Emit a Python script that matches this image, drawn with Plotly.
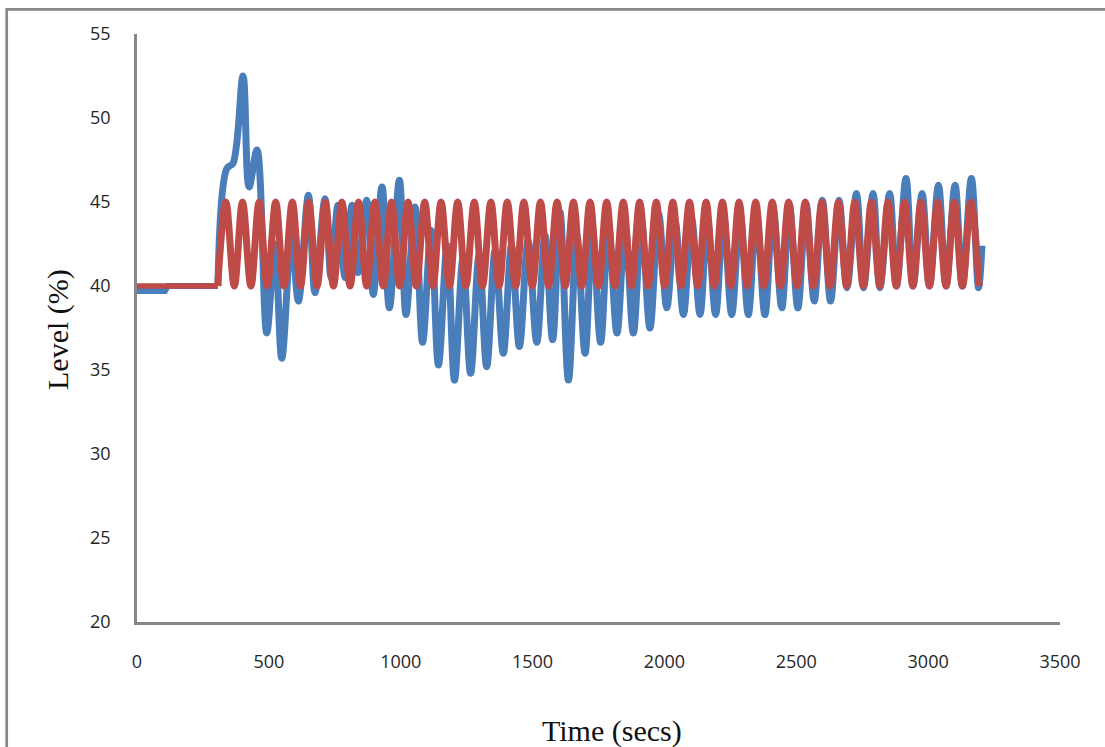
import plotly.graph_objects as go

# ---- data ----
x_ticks = [0, 500, 1000, 1500, 2000, 2500, 3000, 3500]
y_ticks = [20, 25, 30, 35, 40, 45, 50, 55]

# Level (blue series): initial flat part
blue_flat_time = [0, 10, 106, 117, 307]
blue_flat_level = [39.7, 39.7, 39.7, 40.0, 40.0]

# Level (blue series): turning points after the disturbance
blue_time = [307, 341, 364, 402, 425, 455, 492, 523, 549, 586, 612, 650, 675, 713, 736, 762,
             789, 815, 838, 871, 896, 929, 957, 995, 1020, 1054, 1083, 1115, 1143, 1176, 1204,
             1236, 1265, 1297, 1326, 1358, 1389, 1420, 1450, 1483, 1516, 1547, 1576, 1604, 1636,
             1668, 1699, 1727, 1758, 1788, 1820, 1851, 1882, 1913, 1945, 1978, 2009, 2040, 2072,
             2103, 2135, 2163, 2194, 2224, 2255, 2287, 2318, 2349, 2381, 2412, 2445, 2474, 2506,
             2537, 2568, 2599, 2630, 2662, 2692, 2728, 2755, 2791, 2817, 2854, 2880, 2916, 2943,
             2977, 3005, 3039, 3068, 3102, 3130, 3164, 3191, 3204]
blue_level = [40.0, 47.0, 47.3, 52.5, 45.9, 48.1, 37.2, 42.5, 35.7, 43.0, 39.1, 45.4, 39.6, 45.2, 40.5, 44.8,
              40.5, 44.8, 40.8, 45.1, 39.5, 45.9, 38.7, 46.3, 38.3, 44.7, 36.65, 43.3, 35.3, 42.4, 34.4,
              41.6, 34.8, 41.8, 35.2, 42.1, 36.0, 42.4, 36.4, 42.7, 36.65, 43.0, 36.8, 44.4, 34.4,
              43.0, 36.0, 43.3, 36.65, 43.6, 37.2, 43.6, 37.2, 43.8, 37.5, 44.3, 38.7, 43.9, 38.3,
              44.0, 38.3, 44.0, 38.3, 44.2, 38.3, 44.3, 38.3, 44.4, 38.3, 44.6, 38.7, 44.8, 38.7,
              44.9, 39.1, 45.1, 39.1, 45.1, 39.9, 45.5, 39.9, 45.5, 39.9, 45.5, 40.0, 46.4, 40.0,
              45.5, 40.0, 46.0, 40.0, 46.0, 40.0, 46.4, 39.9, 42.4]

# Set point (red series): initial flat part
red_flat_time = [0, 306]
red_flat_level = [40, 40]

# Set point (red series): turning points of the oscillating set point
red_time = [306, 337, 369, 400, 432, 463, 494, 526, 557, 589, 620, 651, 683, 714, 745, 777,
            808, 840, 871, 902, 934, 965, 996, 1028, 1059, 1091, 1122, 1153, 1185, 1216, 1247,
            1279, 1310, 1342, 1373, 1404, 1436, 1467, 1499, 1530, 1561, 1593, 1624, 1655, 1687,
            1718, 1750, 1781, 1812, 1844, 1875, 1906, 1938, 1969, 2001, 2032, 2063, 2095, 2126,
            2158, 2189, 2220, 2252, 2283, 2314, 2346, 2377, 2409, 2440, 2471, 2503, 2534, 2565,
            2597, 2628, 2660, 2691, 2722, 2754, 2785, 2817, 2848, 2879, 2911, 2942, 2973, 3005,
            3036, 3068, 3099, 3130, 3162, 3193]
red_level = [40, 45, 40, 45, 40, 45, 40, 45, 40, 45, 40, 45, 40, 45, 40, 45,
             40, 45, 40, 45, 40, 45, 40, 45, 40, 45, 40, 45, 40, 45, 40,
             45, 40, 45, 40, 45, 40, 45, 40, 45, 40, 45, 40, 45, 40,
             45, 40, 45, 40, 45, 40, 45, 40, 45, 40, 45, 40, 45, 40,
             45, 40, 45, 40, 45, 40, 45, 40, 45, 40, 45, 40, 45, 40,
             45, 40, 45, 40, 45, 40, 45, 40, 45, 40, 45, 40, 45, 40,
             45, 40, 45, 40, 45, 40]

BLUE = "#4A7EBB"
RED = "#BE4B48"
LW = 7

fig = go.Figure()
fig.add_trace(go.Scatter(x=blue_flat_time, y=blue_flat_level, mode="lines",
                         line=dict(color=BLUE, width=LW - 1), showlegend=False, hoverinfo="skip"))
fig.add_trace(go.Scatter(x=blue_time, y=blue_level, mode="lines",
                         line=dict(color=BLUE, width=LW, shape="spline", smoothing=1.0),
                         showlegend=False))
fig.add_trace(go.Scatter(x=red_flat_time, y=red_flat_level, mode="lines",
                         line=dict(color=RED, width=LW - 1.5), showlegend=False, hoverinfo="skip"))
fig.add_trace(go.Scatter(x=red_time, y=red_level, mode="lines",
                         line=dict(color=RED, width=LW, shape="spline", smoothing=1.0),
                         showlegend=False))

W, H = 1105, 747
L, R, T, B = 137, 1060, 34, 622  # plot area in pixels


def px_x(p):
    return (p - L) / (R - L)


def px_y(p):
    return (B - p) / (B - T)


tick_font = dict(family="Open Sans, Lato, sans-serif", size=18, color="#262626")

fig.update_layout(
    width=W, height=H,
    margin=dict(l=L, r=W - R, t=T, b=H - B, pad=0),
    paper_bgcolor="white", plot_bgcolor="white",
    showlegend=False,
    xaxis=dict(range=[0, 3500], tickvals=x_ticks, ticktext=[str(v) for v in x_ticks],
               showline=True, linecolor="#868686", linewidth=2.5, showgrid=False,
               zeroline=False, ticks="", tickfont=tick_font, ticklabelstandoff=22),
    yaxis=dict(range=[20, 55], tickvals=y_ticks, ticktext=[str(v) for v in y_ticks],
               showline=True, linecolor="#868686", linewidth=2.5, showgrid=False,
               zeroline=False, ticks="", tickfont=tick_font, ticklabelstandoff=20),
    shapes=[dict(type="rect", xref="paper", yref="paper",
                 x0=px_x(6.7), x1=px_x(1120), y0=px_y(770), y1=px_y(9.3),
                 line=dict(color="#888888", width=2.7), fillcolor="rgba(0,0,0,0)", layer="below")],
    annotations=[
        dict(text="Time (secs)", xref="paper", yref="paper", x=px_x(612), y=px_y(731),
             xanchor="center", yanchor="middle", showarrow=False,
             font=dict(family="Liberation Serif, Times New Roman, serif", size=30, color="#111111")),
        dict(text="Level (%)", xref="paper", yref="paper", x=px_x(58), y=px_y(330),
             xanchor="center", yanchor="middle", showarrow=False, textangle=-90,
             font=dict(family="Liberation Serif, Times New Roman, serif", size=30, color="#111111")),
    ],
)

fig.write_html("out.html")
